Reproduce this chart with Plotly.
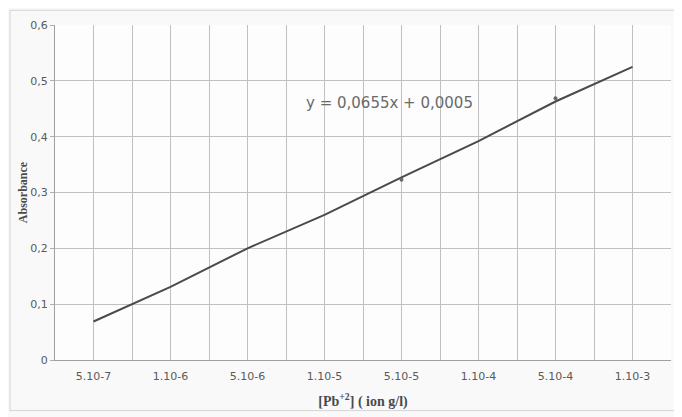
import plotly.graph_objects as go

# Data
categories = ["5.10-7", "1.10-6", "5.10-6", "1.10-5", "5.10-5", "1.10-4", "5.10-4", "1.10-3"]
absorbance = [0.069, 0.131, 0.200, 0.260, 0.327, 0.392, 0.463, 0.525]
marker_cats = ["5.10-5", "5.10-4"]
marker_vals = [0.323, 0.469]
y_ticks = [0, 0.1, 0.2, 0.3, 0.4, 0.5, 0.6]
y_ticktext = ["0", "0,1", "0,2", "0,3", "0,4", "0,5", "0,6"]
equation = "y = 0,0655x + 0,0005"

x_pos = list(range(len(categories)))
marker_pos = [categories.index(c) for c in marker_cats]

fig = go.Figure()
fig.add_trace(go.Scatter(
    x=x_pos, y=absorbance, mode="lines",
    line=dict(color="#4a4a4a", width=2), showlegend=False, hoverinfo="skip"))
fig.add_trace(go.Scatter(
    x=marker_pos, y=marker_vals, mode="markers",
    marker=dict(color="#6a6a6a", size=4), showlegend=False, hoverinfo="skip"))

fig.add_annotation(x=3.85, y=0.46, xref="x", yref="y", text=equation, showarrow=False,
                   font=dict(family="DejaVu Sans", size=15, color="#6a6a6a"))

# faint outer frame of the scanned chart
fig.add_shape(type="rect", xref="paper", yref="paper",
              x0=-0.073, x1=1.011, y0=-0.151, y1=1.044,
              line=dict(color="#d4d4d4", width=1), layer="below")

fig.update_layout(
    width=674, height=409,
    margin=dict(l=47, r=11, t=15, b=56),
    paper_bgcolor="#f9f9f9", plot_bgcolor="#fdfdfd",
    font=dict(family="DejaVu Sans", size=10, color="#5a5a5a"),
)
fig.update_xaxes(
    range=[-0.5, len(categories) - 0.5],
    tickmode="array", tickvals=x_pos, ticktext=categories,
    showgrid=True, gridcolor="#c0c0c0", gridwidth=1,
    minor=dict(tickmode="linear", tick0=-0.5, dtick=0.5, showgrid=True,
               gridcolor="#c0c0c0", gridwidth=1),
    showline=True, linecolor="#a0a0a0", linewidth=1,
    zeroline=False, ticks="", ticklabelstandoff=6,
    tickfont=dict(family="DejaVu Sans", size=11, color="#5a5a5a"),
    title=dict(text="<b>[Pb<sup>+2</sup>] ( ion g/l)</b>", standoff=13,
               font=dict(family="Liberation Serif", size=14, color="#4a4a4a")),
)
fig.update_yaxes(
    range=[0, 0.6], tickmode="array", tickvals=y_ticks, ticktext=y_ticktext,
    showgrid=True, gridcolor="#c0c0c0", gridwidth=1,
    showline=True, linecolor="#a0a0a0", linewidth=1,
    zeroline=False, ticks="outside", ticklen=4, tickcolor="#b0b0b0",
    tickfont=dict(family="DejaVu Sans", size=11, color="#5a5a5a"),
    title=dict(text="<b>Absorbance</b>", standoff=0,
               font=dict(family="Liberation Serif", size=12, color="#4a4a4a")),
)

fig.write_html("out.html")
